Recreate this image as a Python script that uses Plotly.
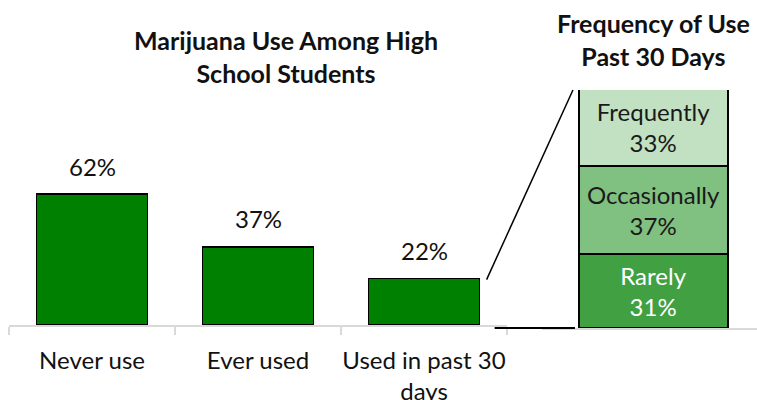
import plotly.graph_objects as go

W, H = 757, 400

categories = ["Never use", "Ever used", "Used in past 30<br>days"]
values = [62, 37, 22]

freq_labels = ["Rarely", "Occasionally", "Frequently"]
freq_values = [31, 37, 33]
freq_colors = ["#41A041", "#80C080", "#C2E0C2"]
freq_text_colors = ["white", "#1a1a1a", "#1a1a1a"]

title_left = "Marijuana Use Among High<br>School Students"
title_right = "Frequency of Use<br>Past 30 Days"

FONT = "Lato"
TXT = "#111111"
FS = 24
TFS = 25

# layout geometry (pixels)
L_X0, L_X1 = 9, 507
L_Y0, L_Y100 = 325, 114
R_X0, R_X1 = 542, 757
R_Y0, R_Y100 = 328, 90
L_RANGE = [-0.5, 2.5]
BAR_W = 0.67
R_RANGE = [-0.748, 0.695]


def px(p):
    return p / W


def py(p):
    return 1 - p / H


def left_x_px(v):
    return L_X0 + (v - L_RANGE[0]) / (L_RANGE[1] - L_RANGE[0]) * (L_X1 - L_X0)


def left_y_px(v):
    return L_Y0 + (L_Y100 - L_Y0) * v / 100


def right_x_px(v):
    return R_X0 + (v - R_RANGE[0]) / (R_RANGE[1] - R_RANGE[0]) * (R_X1 - R_X0)


def right_y_px(v):
    return R_Y0 + (R_Y100 - R_Y0) * v / 100


fig = go.Figure()

fig.add_trace(go.Bar(
    x=categories, y=values, xaxis="x", yaxis="y",
    marker=dict(color="#008000", line=dict(color="black", width=1.5)),
    width=BAR_W, showlegend=False, hoverinfo="skip",
))

for lab, v, c, tc in zip(freq_labels, freq_values, freq_colors, freq_text_colors):
    fig.add_trace(go.Bar(
        x=[0], y=[v], xaxis="x2", yaxis="y2", width=[1],
        marker=dict(color=c, line=dict(color="black", width=2)),
        text=[f"{lab}<br>{v}%"], textposition="inside",
        insidetextanchor="middle", constraintext="none",
        textfont=dict(family=FONT, size=FS, color=tc),
        showlegend=False, hoverinfo="skip",
    ))

annotations = []
for c, v in zip(categories, values):
    annotations.append(dict(
        x=c, y=v, xref="x", yref="y", text=f"{v}%", showarrow=False,
        yanchor="middle", yshift=28,
        font=dict(family=FONT, size=FS, color=TXT),
    ))

annotations.append(dict(
    x=px(286), y=py(57), xref="paper", yref="paper", text=f"<b>{title_left}</b>",
    showarrow=False, xanchor="center", yanchor="middle",
    font=dict(family=FONT, size=TFS, color=TXT),
))
annotations.append(dict(
    x=px(653), y=py(40), xref="paper", yref="paper", text=f"<b>{title_right}</b>",
    showarrow=False, xanchor="center", yanchor="middle",
    font=dict(family=FONT, size=TFS, color=TXT),
))

# connector lines between the 3rd bar and the breakdown column
bar3_right = left_x_px(2 + BAR_W / 2)
bar3_top = left_y_px(values[2])
stack_left = right_x_px(-0.5)
stack_top = right_y_px(100)
shapes = [
    dict(type="line", xref="paper", yref="paper",
         x0=px(bar3_right + 7), y0=py(bar3_top + 1),
         x1=px(stack_left - 6), y1=py(stack_top),
         line=dict(color="black", width=1.5)),
    dict(type="line", xref="paper", yref="paper",
         x0=px(bar3_right + 15), y0=py(right_y_px(0)),
         x1=px(stack_left - 4), y1=py(right_y_px(0)),
         line=dict(color="black", width=2)),
]

fig.update_layout(
    width=W, height=H,
    margin=dict(l=0, r=0, t=0, b=0, autoexpand=False),
    paper_bgcolor="white", plot_bgcolor="rgba(0,0,0,0)",
    barmode="stack",
    xaxis=dict(
        domain=[px(L_X0), px(L_X1)], range=L_RANGE, type="category",
        showline=True, linecolor="#D9D9D9", linewidth=2,
        ticks="outside", tickson="boundaries", ticklen=8, tickcolor="#D9D9D9", tickwidth=2,
        tickfont=dict(family=FONT, size=FS, color=TXT), tickangle=0, automargin=False,
        ticklabelstandoff=13, showgrid=False, zeroline=False,
    ),
    yaxis=dict(
        domain=[py(L_Y0), py(L_Y100)], range=[0, 100], visible=False,
        showgrid=False, zeroline=False,
    ),
    xaxis2=dict(
        domain=[px(R_X0), px(R_X1)], range=R_RANGE, anchor="y2",
        showline=True, linecolor="#D9D9D9", linewidth=2, automargin=False,
        showticklabels=False, ticks="", showgrid=False, zeroline=False,
    ),
    yaxis2=dict(
        domain=[py(R_Y0), py(R_Y100)], range=[0, 100], anchor="x2", visible=False,
        showgrid=False, zeroline=False,
    ),
    annotations=annotations,
    shapes=shapes,
)

fig.write_html("out.html")
